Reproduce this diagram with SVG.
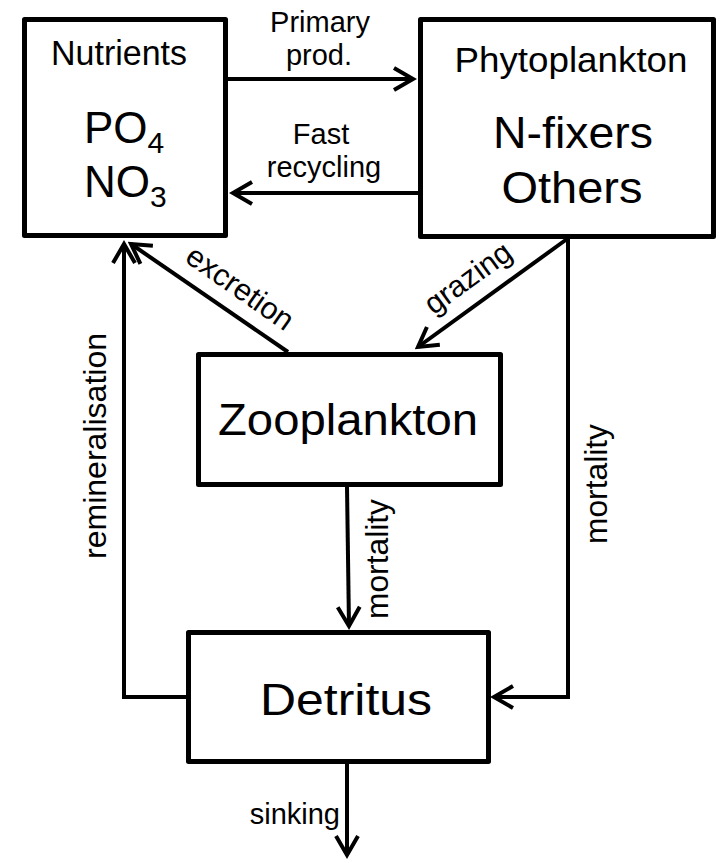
<svg xmlns="http://www.w3.org/2000/svg" width="720" height="863" viewBox="0 0 720 863">
  <style>
    .box { fill: #fff; stroke: #000; stroke-width: 5; stroke-linejoin: round; }
    .link { fill: none; stroke: #000; stroke-width: 4; stroke-linejoin: miter; marker-end: url(#open); }
    text { font-family: "Liberation Sans", Arial, Helvetica, sans-serif; fill: #000; }
    .title { font-size: 35px; text-anchor: middle; }
    .big { font-size: 45px; text-anchor: middle; }
    .chem { font-size: 44px; }
    .sub { font-size: 30px; }
    .lbl { font-size: 29px; text-anchor: middle; }
    .diag { font-size: 30.5px; text-anchor: middle; }
    .vlbl { font-size: 31px; text-anchor: middle; }
  </style>
  <defs>
    <marker id="open" viewBox="-24 -14 28 28" refX="0" refY="0" markerWidth="28" markerHeight="28" markerUnits="userSpaceOnUse" orient="auto">
      <path d="M-19,-11 L0,0 L-19,11" fill="none" stroke="#000" stroke-width="4"/>
    </marker>
  </defs>

  <rect width="720" height="863" fill="#fff"/>

  <!-- flows between compartments -->
  <g id="connectors">
    <path class="link" d="M228,79 H413"/>
    <path class="link" d="M418,193 H233"/>
    <path class="link" d="M288,352 L131,244"/>
    <path class="link" d="M186,697 H124 V244"/>
    <path class="link" d="M567,239 L418,347"/>
    <path class="link" d="M347,487 L349,626"/>
    <path class="link" d="M568,239 V697 H494"/>
    <path class="link" d="M347,764 V855"/>

    <text class="lbl" x="320" y="32">Primary</text>
    <text class="lbl" x="319" y="65">prod.</text>
    <text class="lbl" x="321" y="144">Fast</text>
    <text class="lbl" x="324" y="177">recycling</text>
    <text class="diag" transform="translate(240,288) rotate(35)" y="10">excretion</text>
    <text class="diag" transform="translate(468,278) rotate(-36)" y="10">grazing</text>
    <text class="vlbl" transform="translate(106,446) rotate(-90)" textLength="226" lengthAdjust="spacingAndGlyphs">remineralisation</text>
    <text class="vlbl" transform="translate(388,559) rotate(-90)" textLength="120" lengthAdjust="spacingAndGlyphs">mortality</text>
    <text class="vlbl" transform="translate(607,484) rotate(-90)" textLength="120" lengthAdjust="spacingAndGlyphs">mortality</text>
    <text class="lbl" x="340" y="824" style="text-anchor:end">sinking</text>
  </g>

  <g id="nutrients">
    <rect class="box" x="24.5" y="19.5" width="201" height="216"/>
    <text class="title" x="119" y="65" textLength="136" lengthAdjust="spacingAndGlyphs">Nutrients</text>
    <text class="chem" x="84" y="143">PO<tspan class="sub" dy="10">4</tspan></text>
    <text class="chem" x="84" y="197">NO<tspan class="sub" dy="10">3</tspan></text>
  </g>

  <g id="phytoplankton">
    <rect class="box" x="420.5" y="19.5" width="293" height="217"/>
    <text class="title" x="571" y="72" textLength="233" lengthAdjust="spacingAndGlyphs">Phytoplankton</text>
    <text class="big" x="573" y="148" textLength="160" lengthAdjust="spacingAndGlyphs">N-fixers</text>
    <text class="big" x="572" y="203" textLength="141" lengthAdjust="spacingAndGlyphs">Others</text>
  </g>

  <g id="zooplankton">
    <rect class="box" x="198.5" y="354.5" width="302" height="130"/>
    <text class="big" x="348" y="435" textLength="260" lengthAdjust="spacingAndGlyphs">Zooplankton</text>
  </g>

  <g id="detritus">
    <rect class="box" x="188.5" y="632.5" width="300" height="129"/>
    <text class="big" x="346" y="715" textLength="172" lengthAdjust="spacingAndGlyphs">Detritus</text>
  </g>
</svg>
